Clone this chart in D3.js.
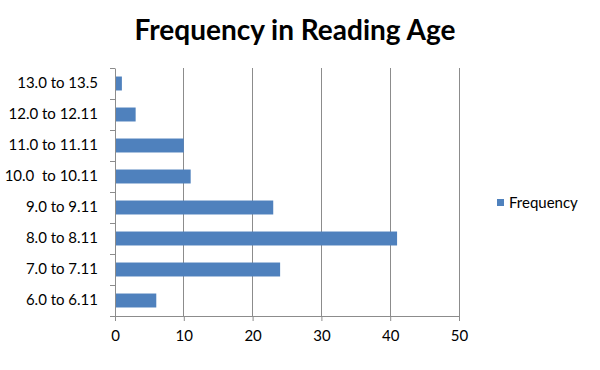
<!DOCTYPE html>
<html><head><meta charset="utf-8">
<script src="https://cdn.jsdelivr.net/npm/d3@7"></script>
<style>body{margin:0;background:#fff}</style>
</head><body>
<svg id="c" width="600" height="370"></svg>
<script>
const categories = ["6.0 to 6.11","7.0 to 7.11","8.0 to 8.11","9.0 to 9.11","10.0  to 10.11","11.0 to 11.11","12.0 to 12.11","13.0 to 13.5"];
const frequency = [6, 24, 41, 23, 11, 10, 3, 1];
const xTicks = [0, 10, 20, 30, 40, 50];
const seriesName = "Frequency";
const title = "Frequency in Reading Age";

(function () {
const svg = d3.select("#c");
const font = "Lato, 'Open Sans', sans-serif";
const pLeft = 115, pRight = 459, pTop = 68, pBottom = 316;
const x = d3.scaleLinear().domain([0, 50]).range([pLeft, pRight]);
const y = d3.scaleBand().domain(categories.slice().reverse()).range([pTop, pBottom]).paddingInner(0.55).paddingOuter(0.275);
const yb = d3.scaleBand().domain(categories.slice().reverse()).range([pTop, pBottom]);

svg.append("text").attr("x", 295).attr("y", 40).attr("text-anchor", "middle")
  .attr("font-family", font).attr("font-weight", "bold").attr("font-size", 28).attr("fill", "#000").text(title);

// gridlines
svg.append("g").selectAll("line").data(xTicks.slice(1)).join("line")
  .attr("x1", d => x(d)).attr("x2", d => x(d)).attr("y1", pTop).attr("y2", pBottom)
  .attr("stroke", "#8c8c8c").attr("stroke-width", 1).attr("shape-rendering", "crispEdges");

// bars
svg.append("g").selectAll("rect").data(categories).join("rect")
  .attr("x", x(0)).attr("y", d => y(d)).attr("height", y.bandwidth())
  .attr("width", (d, i) => x(frequency[i]) - x(0)).attr("fill", "#4F81BD");

// x axis
const xa = svg.append("g").attr("transform", `translate(0,${pBottom})`)
  .call(d3.axisBottom(x).tickValues(xTicks).tickSize(5).tickPadding(9));
xa.select(".domain").attr("stroke", "#8c8c8c");
xa.selectAll(".tick line").attr("stroke", "#8c8c8c");
xa.selectAll("text").attr("font-family", font).attr("font-size", 15).attr("fill", "#000");

// y axis
const ya = svg.append("g").attr("transform", `translate(${pLeft},0)`)
  .call(d3.axisLeft(yb).tickSize(0).tickPadding(17));
ya.select(".domain").attr("stroke", "#8c8c8c");
ya.selectAll("text").attr("font-family", font).attr("font-size", 15).attr("fill", "#000")
  .attr("xml:space", "preserve").style("white-space", "pre");
const bounds = d3.range(categories.length + 1).map(i => pTop + i * yb.step());
svg.append("g").selectAll("line").data(bounds).join("line")
  .attr("x1", pLeft - 5).attr("x2", pLeft).attr("y1", d => d).attr("y2", d => d)
  .attr("stroke", "#8c8c8c").attr("shape-rendering", "crispEdges");

// legend
svg.append("rect").attr("x", 497).attr("y", 199).attr("width", 7).attr("height", 7).attr("fill", "#4F81BD");
svg.append("text").attr("x", 509).attr("y", 208).attr("font-family", font).attr("font-size", 15).attr("fill", "#000").text(seriesName);
})();
</script>
</body></html>
